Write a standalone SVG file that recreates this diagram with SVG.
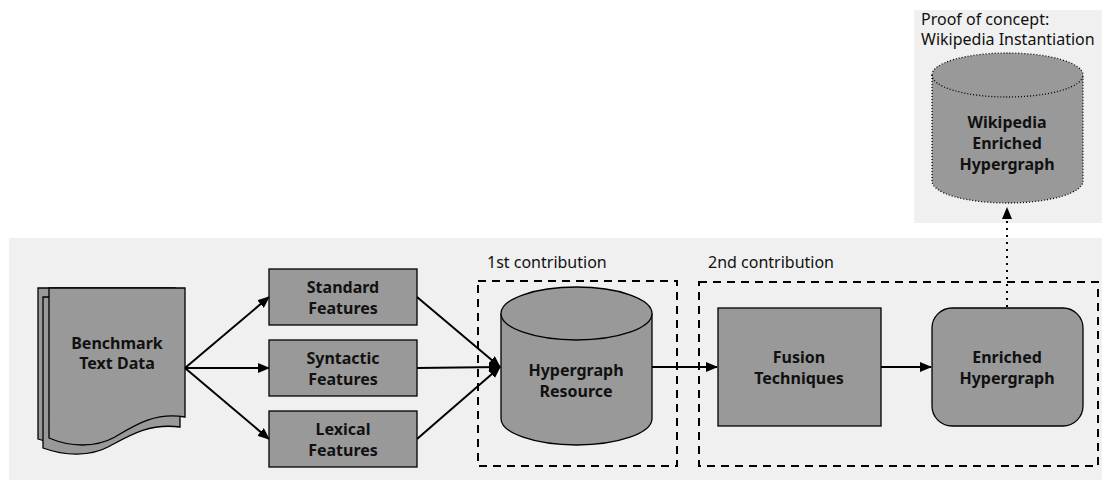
<svg xmlns="http://www.w3.org/2000/svg" width="1102" height="480" viewBox="0 0 1102 480">
<defs>
<style>
.panel{fill:#f0f0f0;stroke:none}
.node{fill:#999999;stroke:#000;stroke-width:1.3}
.lbl{font-family:"Noto Sans","Open Sans",sans-serif;font-weight:bold;font-size:16px;fill:#111;text-anchor:middle}
.cap{font-family:"Noto Sans","Open Sans",sans-serif;font-size:16px;fill:#111}
.edge{fill:none;stroke:#000;stroke-width:2}
.grp{fill:none;stroke:#000;stroke-width:2;stroke-dasharray:8,6}
</style>
<marker id="arr" markerUnits="userSpaceOnUse" markerWidth="12" markerHeight="10" refX="11" refY="5" orient="auto">
<path d="M0,0 L12,5 L0,10 Z" fill="#000"/>
</marker>
</defs>
<rect class="panel" x="9" y="238" width="1093" height="242"/>
<rect class="panel" x="914" y="10" width="188" height="213"/>
<text class="cap" x="921" y="25">Proof of concept:</text>
<text class="cap" x="921" y="45">Wikipedia Instantiation</text>
<text class="cap" x="487" y="268">1st contribution</text>
<text class="cap" x="708" y="268">2nd contribution</text>
<rect class="grp" x="478" y="281" width="199" height="185"/>
<rect class="grp" x="699" y="282" width="399" height="184"/>
<g id="connectors">
<line class="edge" x1="185" y1="368" x2="269" y2="297" marker-end="url(#arr)"/>
<line class="edge" x1="185" y1="368" x2="269" y2="368" marker-end="url(#arr)"/>
<line class="edge" x1="185" y1="368" x2="269" y2="439" marker-end="url(#arr)"/>
<line class="edge" x1="417" y1="297" x2="500" y2="367" marker-end="url(#arr)"/>
<line class="edge" x1="417" y1="368" x2="500" y2="367" marker-end="url(#arr)"/>
<line class="edge" x1="417" y1="439" x2="500" y2="367" marker-end="url(#arr)"/>
<line class="edge" x1="652" y1="367" x2="717" y2="367" marker-end="url(#arr)"/>
<line class="edge" x1="881" y1="367" x2="931" y2="367" marker-end="url(#arr)"/>
<line x1="1007" y1="307" x2="1007" y2="218" stroke="#000" stroke-width="2" stroke-dasharray="2,5"/>
<path d="M1002,219 L1007,207 L1012,219 Z" fill="#000"/>
</g>
<g id="benchmark">
<path class="node" d="M38,288 H175 V412 C145,418 125,432 105,442 C85,452 60,446 38,439 Z"/>
<path class="node" d="M43,297 H180 V427 C150,423 130,435 110,446 C90,457 65,456 43,448 Z"/>
<path class="node" d="M49,288 H185 V417 C155,412 135,425 115,437 C95,448 70,447 49,438 Z"/>
<text class="lbl" x="117" y="349">Benchmark</text>
<text class="lbl" x="117" y="369">Text Data</text>
</g>
<g id="standard">
<rect class="node" x="269" y="269" width="148" height="56"/>
<text class="lbl" x="343" y="293">Standard</text>
<text class="lbl" x="343" y="314">Features</text>
</g>
<g id="syntactic">
<rect class="node" x="269" y="340" width="148" height="56"/>
<text class="lbl" x="343" y="364">Syntactic</text>
<text class="lbl" x="343" y="385">Features</text>
</g>
<g id="lexical">
<rect class="node" x="269" y="411" width="148" height="56"/>
<text class="lbl" x="343" y="435">Lexical</text>
<text class="lbl" x="343" y="456">Features</text>
</g>
<g id="hypergraph">
<path class="node" d="M501,313.5 V418.5 A75.5,26.5 0 0 0 652,418.5 V313.5 A75.5,26.5 0 0 0 501,313.5 Z"/>
<path class="node" d="M501,313.5 A75.5,26.5 0 0 0 652,313.5"/>
<text class="lbl" x="576" y="376">Hypergraph</text>
<text class="lbl" x="576" y="397">Resource</text>
</g>
<g id="fusion">
<rect class="node" x="718" y="308" width="163" height="118"/>
<text class="lbl" x="799" y="363">Fusion</text>
<text class="lbl" x="799" y="384">Techniques</text>
</g>
<g id="enriched">
<rect class="node" x="932" y="308" width="151" height="118" rx="20" ry="20"/>
<text class="lbl" x="1007" y="363">Enriched</text>
<text class="lbl" x="1007" y="384">Hypergraph</text>
</g>
<g id="wikipedia">
<path d="M932,75 V181 A75.5,22 0 0 0 1083,181 V75 A75.5,22 0 0 0 932,75 Z" fill="#999999" stroke="#000" stroke-width="1.3" stroke-dasharray="1,2"/>
<path d="M932,75 A75.5,22 0 0 0 1083,75" fill="none" stroke="#000" stroke-width="1.3" stroke-dasharray="1,2"/>
<text class="lbl" x="1007" y="128">Wikipedia</text>
<text class="lbl" x="1007" y="149">Enriched</text>
<text class="lbl" x="1007" y="170">Hypergraph</text>
</g>
</svg>
